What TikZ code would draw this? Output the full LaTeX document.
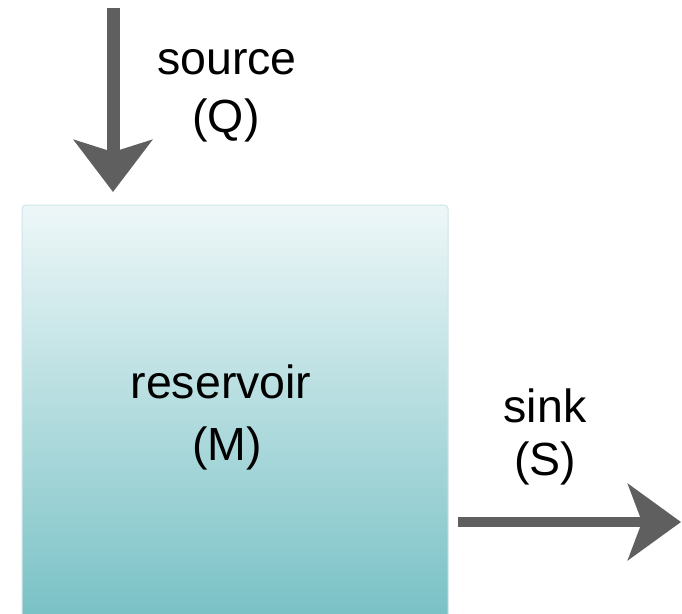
\documentclass[tikz,border=0pt]{standalone}
\usepackage{fontspec}
\setmainfont{Liberation Sans}
\usetikzlibrary{arrows.meta}
\definecolor{arrowgray}{HTML}{5F5F5F}
\definecolor{boxtop}{HTML}{EEF7F8}
\definecolor{boxbot}{HTML}{78C1C5}
\definecolor{boxline}{HTML}{CDE5E8}
\tikzset{
  lbl/.style={anchor=base, inner sep=0pt, font=\fontsize{46.5}{54}\selectfont},
  flow/.style={draw=arrowgray, line cap=butt},
}
\begin{document}
\begin{tikzpicture}[x=1pt,y=-1pt]
\useasboundingbox (0,0) rectangle (682,613);
\clip (0,0) rectangle (682,613);
\node[draw=boxline, line width=1pt, rounded corners=4pt, top color=boxtop, bottom color=boxbot,
      minimum width=426pt, minimum height=416pt, inner sep=0pt] (res) at (235,413) {};
\coordinate (qtop) at (113,8);
\coordinate (qend) at (113,192);
\draw[flow, line width=13pt, -{Stealth[length=52pt,width=78pt,inset=12pt]}] (qtop) -- (qend);
\coordinate (sstart) at (458,522);
\coordinate (send) at (681,522);
\draw[flow, line width=10.5pt, -{Stealth[length=53pt,width=76pt,inset=14pt]}] (sstart) -- (send);
\node[lbl] (src) at (227,74) {source};
\node[lbl] (srcq) at (226,132) {(Q)};
\node[lbl] (resl) at (221,398) {reservoir};
\node[lbl] (resm) at (227,460) {(M)};
\node[lbl] (snk) at (545,422) {sink};
\node[lbl] (snks) at (545,475) {(S)};
\end{tikzpicture}
\end{document}
